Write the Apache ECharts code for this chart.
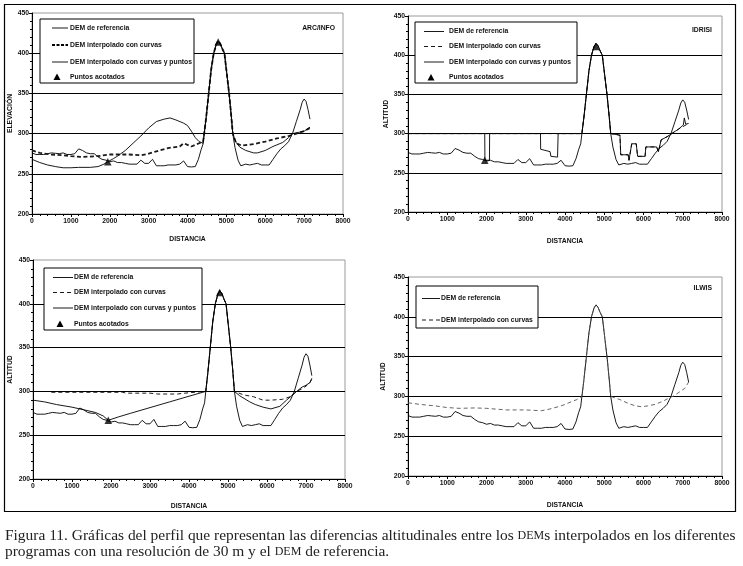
<!DOCTYPE html>
<html>
<head>
<meta charset="utf-8">
<script src="https://cdn.jsdelivr.net/npm/echarts@6/dist/echarts.min.js"></script>
<style>
  html,body{margin:0;padding:0;background:#fff;}
  #chart{width:743px;height:566px;}
</style>
</head>
<body>
<div id="chart"></div>
<script>
// ===== Datos (distancia m, altitud m)
const xTicks = [0,1000,2000,3000,4000,5000,6000,7000,8000];
const yTicks = [200,250,300,350,400,450];

// tramo del pico, común a todas las curvas
const peakPts = [[4430,300],[4480,320],[4545,350],[4610,380],[4675,400],[4740,411],[4790,415],[4840,412],[4900,405],[4950,400],[5010,375],[5070,350],[5120,325],[5165,300]];

const refBefore = [[0,276],[100,274],[200,274],[300,274],[400,275],[500,276],[600,275.5],[700,275],[800,276],[900,274],[1000,274],[1100,275],[1200,281],[1300,279],[1400,276],[1500,275],[1600,275],[1700,271],[1800,268],[1900,267],[2000,265],[2100,266],[2200,264],[2300,264],[2400,263],[2500,262],[2600,262],[2700,262],[2800,267],[2900,263],[3000,263],[3100,268],[3200,260],[3300,260],[3400,260],[3500,261],[3600,261],[3700,261],[3800,262],[3900,266],[4000,259],[4100,258.5],[4200,259],[4280,268],[4350,280],[4400,287]];
const refAfter = [[5220,283],[5300,267],[5370,260],[5500,262],[5600,261],[5700,262],[5800,263],[5900,261],[6000,261],[6100,261],[6200,268],[6300,275],[6400,281],[6500,285],[6600,290],[6700,300],[6800,315],[6900,330],[6950,339],[7000,343],[7050,340],[7100,330],[7150,318]];

// ARC/INFO
const arcCurvasA = [[0,279],[200,276],[500,274],[800,273],[1000,272],[1300,271],[1700,272],[2000,274],[2500,274],[2800,273],[3000,275],[3200,278],[3500,282],[3800,284],[3900,288],[4000,286],[4100,284],[4300,288],[4400,290]];
const arcCurvasB = [[5250,288],[5400,285],[5700,287],[6000,290],[6300,294],[6600,297],[6800,300],[7000,303],[7150,307]];
const arcPuntosA = [[0,268],[200,264],[400,261],[600,259],[800,257.5],[1000,257.5],[1200,258],[1500,258],[1700,259],[1850,262],[1950,265],[2100,269],[2200,272],[2400,279],[2600,288],[2800,297],[3000,307],[3200,315],[3400,318],[3550,319.5],[3700,317],[3900,313],[4000,310],[4100,303],[4200,295],[4300,290],[4400,288]];
const arcPuntosB = [[5250,289],[5350,283],[5500,279],[5700,276],[5800,276],[6000,279],[6200,284],[6450,289],[6600,295],[6700,300],[6900,302],[7000,303],[7150,308]];
const arcCotas = [[1950,265],[4790,414]];

// IDRISI
const idrCurvasA = [[0,300],[4430,300]];
const idrPuntosA = [[0,300],[1955,300],[1960,266],[2075,266],[2080,300],[3375,300],[3380,280],[3620,277],[3640,271],[3810,270],[3825,300],[4430,300]];
const idrCurvasB = [[5190,298],[5400,298],[5420,273],[5610,273],[5630,266],[5660,266],[5700,287],[5815,287],[5850,271],[6040,271],[6060,283],[6335,283],[6380,277],[6450,292],[6600,296],[6720,300],[6900,306],[7150,313]];
const idrPuntosB = [[5190,298],[5400,298],[5420,273],[5610,273],[5630,266],[5660,266],[5700,287],[5815,287],[5850,271],[6040,271],[6060,283],[6335,283],[6380,277],[6450,292],[6600,296],[6720,300],[6900,306],[7015,311],[7040,320],[7075,312],[7150,313]];
const idrCotas = [[1955,266],[4785,411]];

// ARC/INFO con puntos (panel 3)
const p3CurvasA = [[470,299],[1000,299],[1500,299],[2000,299],[2300,299],[2400,298],[3000,298],[3200,297],[3700,297],[4000,298.5],[4430,300]];
const p3CurvasB = [[5400,296],[5650,294],[5900,290],[6100,290],[6400,291],[6600,294],[6760,300],[6900,303],[7000,306],[7100,310],[7150,314]];
const p3PuntosA = [[0,290],[300,288],[600,285],[1000,282],[1300,279],[1600,276],[1800,272],[1930,267],[2200,271],[2500,275],[3000,281.5],[3500,288],[4000,294.5],[4430,300]];
const p3PuntosB = [[5300,295],[5560,288],[5700,285],[5900,282],[6100,280],[6330,283],[6500,290],[6760,300],[6900,305],[7000,307],[7100,310],[7150,315]];
const p3Cotas = [[1930,267],[4785,413]];

// ILWIS
const ilwCurvasA = [[0,292],[300,290],[700,288],[1000,286],[1300,285],[1700,285.5],[2000,285],[2500,283],[3000,283],[3400,282],[3600,284],[3900,288],[4100,292],[4300,296],[4430,300]];
const ilwCurvasB = [[5400,296],[5620,291],[5800,288],[5960,287],[6100,288],[6300,290],[6500,294],[6680,299],[6750,300],[6900,305],[7050,310],[7150,318]];

const demRef = refBefore.concat(peakPts, refAfter);

// ===== Helpers
const FONT = 'Liberation Sans';
const lbl = {fontFamily:FONT, fontSize:6.8, fontWeight:'bold', color:'#111'};

function mkX(i, gap){
  return { gridIndex:i, type:'value', min:xTicks[0], max:xTicks[xTicks.length-1], interval:1000,
    name:'DISTANCIA', nameLocation:'middle', nameGap:gap, nameTextStyle:lbl,
    axisLine:{show:true, lineStyle:{color:'#000', width:1}},
    axisTick:{show:true, length:3, lineStyle:{color:'#000'}},
    minorTick:{show:true, splitNumber:5, length:2, lineStyle:{color:'#000'}},
    axisLabel:Object.assign({margin:4, formatter:v=>String(v)}, lbl),
    splitLine:{show:false} };
}
function mkY(i, name, gap){
  return { gridIndex:i, type:'value', min:yTicks[0], max:yTicks[yTicks.length-1], interval:50,
    name:name, nameLocation:'middle', nameGap:gap, nameRotate:90, nameTextStyle:lbl,
    axisLine:{show:true, lineStyle:{color:'#000', width:1}},
    axisTick:{show:true, length:3, lineStyle:{color:'#000'}},
    minorTick:{show:true, splitNumber:5, length:2, lineStyle:{color:'#000'}},
    axisLabel:Object.assign({margin:3, formatter:v=>String(v)}, lbl),
    splitLine:{show:true, showMinLine:false, showMaxLine:false, lineStyle:{color:'#000', width:1}} };
}
function line(i, name, data, ls){
  return { type:'line', name:name, xAxisIndex:i, yAxisIndex:i, data:data, symbol:'none', silent:true,
    lineStyle:Object.assign({color:'#000', width:0.9}, ls) };
}
function cotas(i, data){
  return { type:'scatter', name:'Puntos acotados', xAxisIndex:i, yAxisIndex:i, data:data,
    symbol:'triangle', symbolSize:7.5, itemStyle:{color:'#000'}, silent:true, z:5 };
}

// leyenda dibujada a mano: caja + muestras
function legendBox(b, items){
  const els = [{type:'rect', shape:{x:b.x, y:b.y, width:b.w, height:b.h}, style:{fill:'#fff', stroke:'#000', lineWidth:1}, z:10}];
  items.forEach(it=>{
    if (it.kind==='tri'){
      const cx = (b.sx0+b.sx1)/2 - 3;
      els.push({type:'polygon', shape:{points:[[cx,it.y-3.5],[cx-3.5,it.y+3],[cx+3.5,it.y+3]]}, style:{fill:'#000'}, z:11});
    } else {
      els.push({type:'line', shape:{x1:b.sx0, y1:it.y, x2:b.sx1, y2:it.y},
        style:{stroke:'#000', lineWidth:it.lw||0.9, lineDash:it.dash||null}, z:11});
    }
    els.push({type:'text', x:b.tx, y:it.y, style:{text:it.label, fill:'#111', font:'bold 6.8px '+FONT, verticalAlign:'middle'}, z:11});
  });
  return els;
}
const L_REF='DEM de referencia', L_CUR='DEM interpolado con curvas', L_PTS='DEM interpolado con curvas y puntos', L_COT='Puntos acotados';

// ===== Init
document.addEventListener('DOMContentLoaded', ()=>{
  const chart = echarts.init(document.getElementById('chart'), null, {renderer:'canvas'});

  const grids = [
    {left:32, top:13, width:311, height:201},
    {left:408, top:16, width:314, height:196},
    {left:33, top:260, width:312, height:219},
    {left:408, top:277, width:314, height:199}
  ].map(g=>Object.assign({show:true, borderColor:'#9a9a9a', borderWidth:1, backgroundColor:'#fff'}, g));

  const dashThick = {width:1.8, type:[4,2.5], color:'#1a1a1a'};
  const dashThin  = {width:0.9, type:[4,3]};

  const series = [
    line(0, L_REF, demRef),
    line(0, L_CUR, arcCurvasA.concat(peakPts, arcCurvasB), dashThick),
    line(0, L_PTS, arcPuntosA.concat(peakPts, arcPuntosB)),
    cotas(0, arcCotas),

    line(1, L_REF, demRef),
    line(1, L_CUR, idrCurvasA.concat(peakPts, idrCurvasB), dashThin),
    line(1, L_PTS, idrPuntosA.concat(peakPts, idrPuntosB)),
    cotas(1, idrCotas),

    line(2, L_REF, demRef),
    line(2, L_CUR, p3CurvasA.concat(peakPts, p3CurvasB), dashThin),
    line(2, L_PTS, p3PuntosA.concat(peakPts, p3PuntosB)),
    cotas(2, p3Cotas),

    line(3, L_REF, demRef),
    line(3, L_CUR, ilwCurvasA.concat(peakPts, ilwCurvasB), {width:0.9, type:[4,3], color:'#555'})
  ];

  const capFont = '15.45px Liberation Serif';
  const capRich = {sc:{fontSize:12, fontFamily:'Liberation Serif'}};

  const graphic = [].concat(
    [{type:'rect', shape:{x:4.5, y:4.5, width:731, height:507}, style:{fill:'none', stroke:'#000', lineWidth:1.2}, z:20}],
    legendBox({x:40, y:19, w:154, h:64, sx0:52, sx1:68, tx:70}, [
      {label:L_REF, y:28}, {label:L_CUR, y:45, dash:[3,1.5], lw:2}, {label:L_PTS, y:62}, {label:L_COT, y:77, kind:'tri'}]),
    legendBox({x:415, y:22, w:162, h:61, sx0:424, sx1:444, tx:449}, [
      {label:L_REF, y:31.5}, {label:L_CUR, y:46.5, dash:[4,3]}, {label:L_PTS, y:62}, {label:L_COT, y:77.5, kind:'tri'}]),
    legendBox({x:44, y:268, w:158, h:62, sx0:53, sx1:73, tx:74}, [
      {label:L_REF, y:277.5}, {label:L_CUR, y:292.5, dash:[4,3]}, {label:L_PTS, y:308}, {label:L_COT, y:324, kind:'tri'}]),
    legendBox({x:416, y:286, w:122, h:42, sx0:422, sx1:440, tx:441}, [
      {label:L_REF, y:298.5}, {label:L_CUR, y:320, dash:[4,3]}]),
    [
      {type:'text', x:335, y:28, style:{text:'ARC/INFO', fill:'#111', font:'bold 6.8px '+FONT, align:'right', verticalAlign:'middle'}},
      {type:'text', x:712, y:30, style:{text:'IDRISI', fill:'#111', font:'bold 6.8px '+FONT, align:'right', verticalAlign:'middle'}},
      {type:'text', x:712, y:288, style:{text:'ILWIS', fill:'#111', font:'bold 6.8px '+FONT, align:'right', verticalAlign:'middle'}},
      {type:'text', x:5, y:536, style:{text:'Figura 11. Gráficas del perfil que representan las diferencias altitudinales entre los {sc|DEM}s interpolados en los diferentes',
        font:capFont, fill:'#222', verticalAlign:'middle', rich:capRich}},
      {type:'text', x:5, y:552, style:{text:'programas con una resolución de 30 m y el {sc|DEM} de referencia.',
        font:capFont, fill:'#222', verticalAlign:'middle', rich:capRich}}
    ]
  );

  chart.setOption({
    backgroundColor:'#fff',
    animation:false,
    grid:grids,
    xAxis:[mkX(0,22), mkX(1,26), mkX(2,24), mkX(3,26)],
    yAxis:[mkY(0,'ELEVACIÓN',18), mkY(1,'ALTITUD',18), mkY(2,'ALTITUD',19), mkY(3,'ALTITUD',21)],
    series:series,
    graphic:graphic
  });
});
</script>
</body>
</html>
